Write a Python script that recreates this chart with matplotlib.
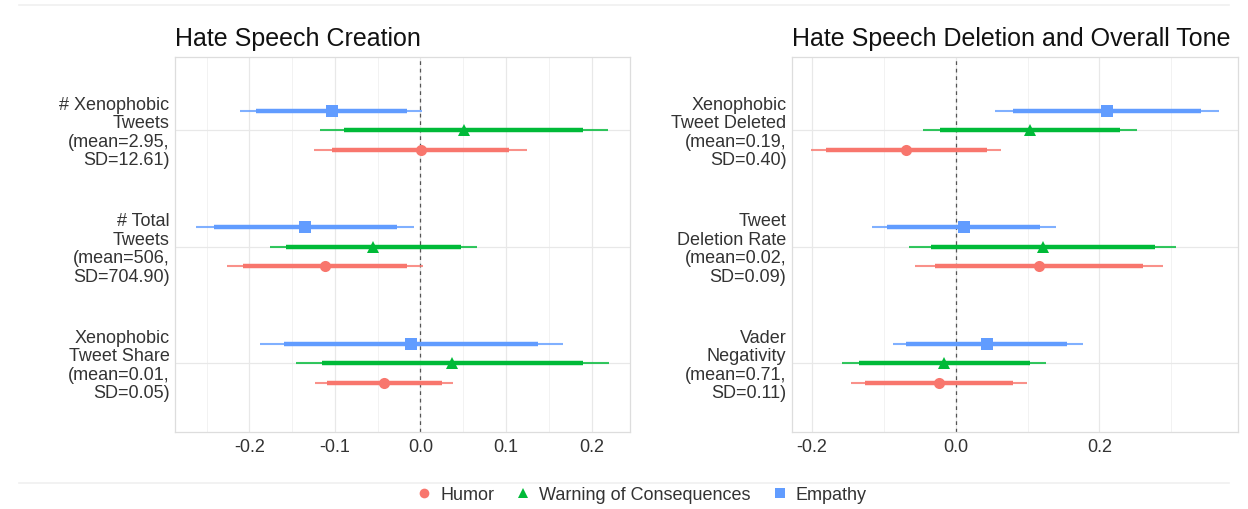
import numpy as np
import matplotlib
matplotlib.use("Agg")
from matplotlib import pyplot as plt
from matplotlib.lines import Line2D

plt.rcParams['font.family'] = ['Liberation Sans', 'DejaVu Sans']

# treatments, in legend order
treatments = ["Humor", "Warning of Consequences", "Empathy"]
colors = ["#F8766D", "#00BA38", "#619CFF"]
markers = ["o", "^", "s"]

# ---- panel 1: hate speech creation (outcomes listed top to bottom)
creation_labels = ["# Xenophobic\nTweets\n(mean=2.95,\nSD=12.61)",
                   "# Total\nTweets\n(mean=506,\nSD=704.90)",
                   "Xenophobic\nTweet Share\n(mean=0.01,\nSD=0.05)"]
# rows = treatment (Humor, Warning, Empathy), cols = outcome
creation_est = [[0.001, -0.112, -0.043],
                [0.051, -0.055, 0.037],
                [-0.104, -0.135, -0.011]]
creation_ci95 = [[(-0.124, 0.124), (-0.226, 0.003), (-0.123, 0.038)],
                 [(-0.117, 0.219), (-0.176, 0.066), (-0.145, 0.220)],
                 [(-0.211, 0.002), (-0.262, -0.007), (-0.188, 0.167)]]
creation_ci90 = [[(-0.103, 0.104), (-0.208, -0.016), (-0.109, 0.025)],
                 [(-0.089, 0.190), (-0.157, 0.047), (-0.115, 0.190)],
                 [(-0.192, -0.016), (-0.241, -0.027), (-0.159, 0.138)]]

# ---- panel 2: deletion and overall tone
deletion_labels = ["Xenophobic\nTweet Deleted\n(mean=0.19,\nSD=0.40)",
                   "Tweet\nDeletion Rate\n(mean=0.02,\nSD=0.09)",
                   "Vader\nNegativity\n(mean=0.71,\nSD=0.11)"]
deletion_est = [[-0.069, 0.116, -0.023],
                [0.104, 0.121, -0.017],
                [0.211, 0.011, 0.044]]
deletion_ci95 = [[(-0.201, 0.063), (-0.057, 0.288), (-0.146, 0.099)],
                 [(-0.046, 0.253), (-0.065, 0.306), (-0.158, 0.126)],
                 [(0.054, 0.366), (-0.117, 0.139), (-0.088, 0.177)]]
deletion_ci90 = [[(-0.180, 0.043), (-0.029, 0.261), (-0.126, 0.080)],
                 [(-0.022, 0.229), (-0.035, 0.278), (-0.135, 0.103)],
                 [(0.080, 0.341), (-0.096, 0.118), (-0.069, 0.155)]]

W, H = 1248, 509
dodge = [-0.167, 0.0, 0.167]  # humor lowest, empathy highest
FS = 13

def panel(ax, title, labels, est, ci95, ci90, xlim, major, minor):
    ypos = np.arange(len(labels))[::-1] + 1.0
    for t in range(len(treatments)):
        for k in range(len(labels)):
            y = ypos[k] + dodge[t]
            ax.plot(ci95[t][k], [y, y], color=colors[t], lw=1.5, alpha=0.8,
                    solid_capstyle="butt", zorder=3)
            ax.plot(ci90[t][k], [y, y], color=colors[t], lw=3.2, solid_capstyle="butt", zorder=4)
            ax.plot(est[t][k], y, marker=markers[t], color=colors[t], ms=8, mew=0, zorder=5)
    ax.axvline(0, color="#555555", lw=0.9, ls=(0, (3, 3)), zorder=2)
    ax.set_xlim(*xlim)
    ax.set_ylim(0.41, 3.63)
    ax.set_xticks(major)
    ax.set_xticks(minor, minor=True)
    ax.set_xticklabels(["%.1f" % v if v != 0 else "0.0" for v in major])
    ax.set_yticks(ypos)
    ax.set_yticklabels(labels, fontsize=FS, color="#333333", linespacing=1.12)
    ax.tick_params(axis="x", labelsize=FS, colors="#333333", length=0, pad=5)
    ax.tick_params(axis="y", length=0, pad=4)
    ax.tick_params(which="minor", length=0)
    ax.grid(True, which="major", color="#E8E8E8", lw=0.9)
    ax.grid(True, which="minor", axis="x", color="#F2F2F2", lw=0.7)
    ax.set_axisbelow(True)
    for s in ax.spines.values():
        s.set_color("#DDDDDD")
        s.set_linewidth(0.9)
    ax.set_title(title, loc="left", fontsize=18, color="#111111", pad=8)

fig = plt.figure(figsize=(W / 100, H / 100), dpi=100)
bottom = (H - 432) / H
height = (432 - 57) / H
ax1 = fig.add_axes([175 / W, bottom, (630 - 175) / W, height])
ax2 = fig.add_axes([792 / W, bottom, (1238 - 792) / W, height])

panel(ax1, "Hate Speech Creation", creation_labels, creation_est, creation_ci95, creation_ci90,
      (-0.287, 0.245), [-0.2, -0.1, 0.0, 0.1, 0.2], [-0.25, -0.15, -0.05, 0.05, 0.15])
panel(ax2, "Hate Speech Deletion and Overall Tone", deletion_labels, deletion_est, deletion_ci95,
      deletion_ci90, (-0.228, 0.393), [-0.2, 0.0, 0.2], [-0.1, 0.1, 0.3])

# faint separator lines of the original screenshot
fig.add_artist(Line2D([0.015, 0.985], [1 - 5 / H, 1 - 5 / H], color="#F0F0F0", lw=1.2))
fig.add_artist(Line2D([0.015, 0.985], [1 - 483 / H, 1 - 483 / H], color="#F0F0F0", lw=1.2))

handles = [Line2D([], [], ls="none", marker=markers[i], color=colors[i], ms=7, mew=0)
           for i in range(len(treatments))]
fig.legend(handles, treatments, loc="center", bbox_to_anchor=(640 / W, 1 - 495 / H), ncol=3,
           frameon=False, fontsize=FS, handletextpad=0.3, columnspacing=1.0,
           handlelength=1.2, labelcolor="#333333")

fig.savefig("out.png", dpi=100)
